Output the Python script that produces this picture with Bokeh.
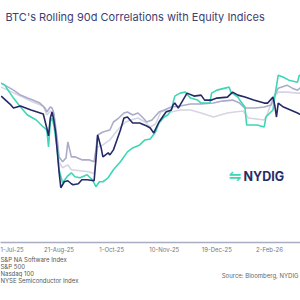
from bokeh.plotting import figure
from bokeh.models import Range1d, FixedTicker, Label
from bokeh.layouts import column
from bokeh.embed import file_html
from bokeh.resources import INLINE

# x: trading-day index (0 = 1-Jul-25), y: rolling 90d correlation
tick_pos = [0, 30, 60, 90, 120, 150]
tick_labels = ["1-Jul-25", "21-Aug-25", "1-Oct-25", "10-Nov-25", "19-Dec-25", "2-Feb-26"]

software_x = [-3, 2, 4, 8, 14, 21, 23, 24, 25, 26, 27, 28, 30, 31, 33, 35, 37, 38, 41, 43, 46, 50, 51, 52,
              54, 55, 58, 59, 61, 63, 65, 67, 69, 72, 76, 80, 82, 84, 87, 91, 94, 95, 96, 98, 100, 103, 107,
              111, 113, 117, 120, 126, 129, 132, 136, 141, 147, 149, 152, 153, 154, 155, 158, 162, 166, 168]
software_y = [0.57, 0.53, 0.51, 0.52, 0.50, 0.48, 0.41, 0.37, 0.46, 0.49, 0.45, 0.39, 0.19, 0.11, 0.14, 0.145,
              0.13, 0.125, 0.13, 0.15, 0.15, 0.145, 0.25, 0.375, 0.31, 0.265, 0.285, 0.275, 0.30, 0.35, 0.40,
              0.46, 0.465, 0.435, 0.435, 0.42, 0.41, 0.385, 0.44, 0.49, 0.50, 0.525, 0.535, 0.51, 0.54, 0.585,
              0.57, 0.575, 0.55, 0.55, 0.56, 0.565, 0.59, 0.575, 0.565, 0.55, 0.535, 0.535, 0.565, 0.525, 0.465,
              0.535, 0.515, 0.50, 0.485, 0.475]

sp500_x = [-3, -1, 4, 8, 12, 15, 19, 22, 23, 25, 26, 27, 29, 30, 32, 34, 35, 37, 39, 43, 47, 50, 51, 52, 55,
           59, 61, 64, 67, 69, 72, 75, 78, 80, 83, 87, 90, 94, 99, 105, 111, 118, 123, 129, 133, 136, 142,
           147, 151, 153, 155, 160, 163, 166, 168]
sp500_y = [0.635, 0.625, 0.60, 0.575, 0.56, 0.55, 0.535, 0.51, 0.49, 0.515, 0.51, 0.485, 0.35, 0.265, 0.24,
           0.26, 0.34, 0.265, 0.265, 0.25, 0.25, 0.24, 0.30, 0.375, 0.39, 0.40, 0.44, 0.46, 0.485, 0.49, 0.475,
           0.485, 0.46, 0.44, 0.45, 0.49, 0.50, 0.515, 0.52, 0.53, 0.53, 0.535, 0.545, 0.55, 0.535, 0.51, 0.51,
           0.515, 0.525, 0.575, 0.61, 0.625, 0.61, 0.60, 0.615]

nasdaq_x = [-3, 8, 15, 21, 23, 25, 27, 29, 30, 32, 35, 37, 42, 47, 50, 51, 52, 55, 59, 62, 65, 68, 71, 75,
            79, 82, 85, 88, 91, 94, 99, 105, 111, 118, 126, 130, 135, 138, 147, 149, 152, 155, 160, 166, 168]
nasdaq_y = [0.615, 0.57, 0.54, 0.52, 0.475, 0.495, 0.48, 0.325, 0.24, 0.21, 0.225, 0.20, 0.195, 0.19, 0.18,
            0.25, 0.315, 0.325, 0.35, 0.385, 0.415, 0.44, 0.45, 0.46, 0.44, 0.415, 0.43, 0.49, 0.50, 0.49, 0.50,
            0.50, 0.485, 0.465, 0.485, 0.49, 0.495, 0.46, 0.45, 0.485, 0.56, 0.59, 0.59, 0.585, 0.585]

semis_x = [-3, -1, 4, 8, 12, 17, 21, 23, 24, 25, 26, 27, 29, 30, 32, 35, 37, 39, 42, 46, 49, 51, 53, 55, 58,
           61, 65, 69, 72, 76, 79, 82, 85, 87, 90, 92, 94, 95, 96, 99, 102, 105, 109, 111, 116, 117, 120, 127,
           128, 132, 133, 136, 137, 143, 147, 148, 152, 153, 155, 158, 161, 166, 167, 168]
semis_y = [0.635, 0.625, 0.56, 0.515, 0.475, 0.45, 0.415, 0.40, 0.315, 0.44, 0.46, 0.425, 0.30, 0.20, 0.135,
           0.17, 0.185, 0.165, 0.16, 0.175, 0.15, 0.115, 0.14, 0.14, 0.16, 0.20, 0.24, 0.29, 0.31, 0.325, 0.35,
           0.355, 0.39, 0.435, 0.465, 0.475, 0.50, 0.535, 0.57, 0.585, 0.59, 0.56, 0.55, 0.535, 0.535, 0.585,
           0.60, 0.615, 0.59, 0.565, 0.55, 0.515, 0.425, 0.425, 0.415, 0.465, 0.50, 0.565, 0.675, 0.665, 0.65,
           0.64, 0.675, 0.67]

series = [
    ("Nasdaq 100", nasdaq_x, nasdaq_y, "#d5d5e4"),
    ("S&P 500", sp500_x, sp500_y, "#ababca"),
    ("NYSE Semiconductor Index", semis_x, semis_y, "#3fd6b6"),
    ("S&P NA Software Index", software_x, software_y, "#232a66"),
]
legend_order = ["S&P NA Software Index", "S&P 500", "Nasdaq 100", "NYSE Semiconductor Index"]

FONT = "Inter"

p = figure(width=300, height=255, output_backend="svg", toolbar_location=None,
           x_range=Range1d(-3.4, 167.7), y_range=Range1d(-0.165, 1.05),
           min_border_left=0, min_border_right=0, min_border_top=0, min_border_bottom=12)
p.outline_line_color = None
p.grid.visible = False
p.yaxis.visible = False

for name, xs, ys, col in series:
    p.line(xs, ys, line_color=col, line_width=1.6)

ax = p.xaxis[0]
ax.ticker = FixedTicker(ticks=tick_pos)
ax.major_label_overrides = {t: l for t, l in zip(tick_pos, tick_labels)}
ax.axis_line_color = "#a9adc2"
ax.axis_line_width = 1.5
ax.major_tick_line_color = None
ax.minor_tick_line_color = None
ax.major_tick_out = 0
ax.major_tick_in = 0
ax.major_label_standoff = 3
ax.major_label_text_font = FONT
ax.major_label_text_font_size = "6px"
ax.major_label_text_color = "#777777"

p.add_layout(Label(x=5, y=225.5, x_units="screen", y_units="screen",
                   text="BTC's Rolling 90d Correlations with Equity Indices",
                   text_font=FONT, text_font_size="11px", text_color="#3d4172",
                   text_baseline="middle", text_align="left"))

p.add_layout(Label(x=243, y=243 - 176.5, x_units="screen", y_units="screen", text="NYDIG",
                   text_font=FONT, text_font_size="12.5px", text_font_style="bold",
                   text_color="#262c68", text_baseline="middle", text_align="left"))
p.add_layout(Label(x=228, y=243 - 176.5, x_units="screen", y_units="screen", text="\u21cb",
                   text_font="DejaVu Sans", text_font_size="15px", text_font_style="bold",
                   text_color="#3fd6b6", text_baseline="middle", text_align="left"))

# footer strip: legend entries and source
f = figure(width=300, height=45, output_backend="svg", toolbar_location=None,
           x_range=Range1d(0, 300), y_range=Range1d(0, 45),
           min_border_left=0, min_border_right=0, min_border_top=0, min_border_bottom=0)
f.outline_line_color = None
f.grid.visible = False
f.axis.visible = False

for k, name in enumerate(legend_order):
    f.add_layout(Label(x=0, y=41 - 7 * k, x_units="screen", y_units="screen", text=name,
                       text_font=FONT, text_font_size="6px", text_color="#555555",
                       text_baseline="middle", text_align="left"))

f.add_layout(Label(x=298, y=25.5, x_units="screen", y_units="screen", text="Source: Bloomberg, NYDIG",
                   text_font=FONT, text_font_size="6px", text_color="#666666",
                   text_baseline="middle", text_align="right"))

layout = column(p, f, spacing=0)
open("out.html", "w").write(file_html(layout, INLINE))
